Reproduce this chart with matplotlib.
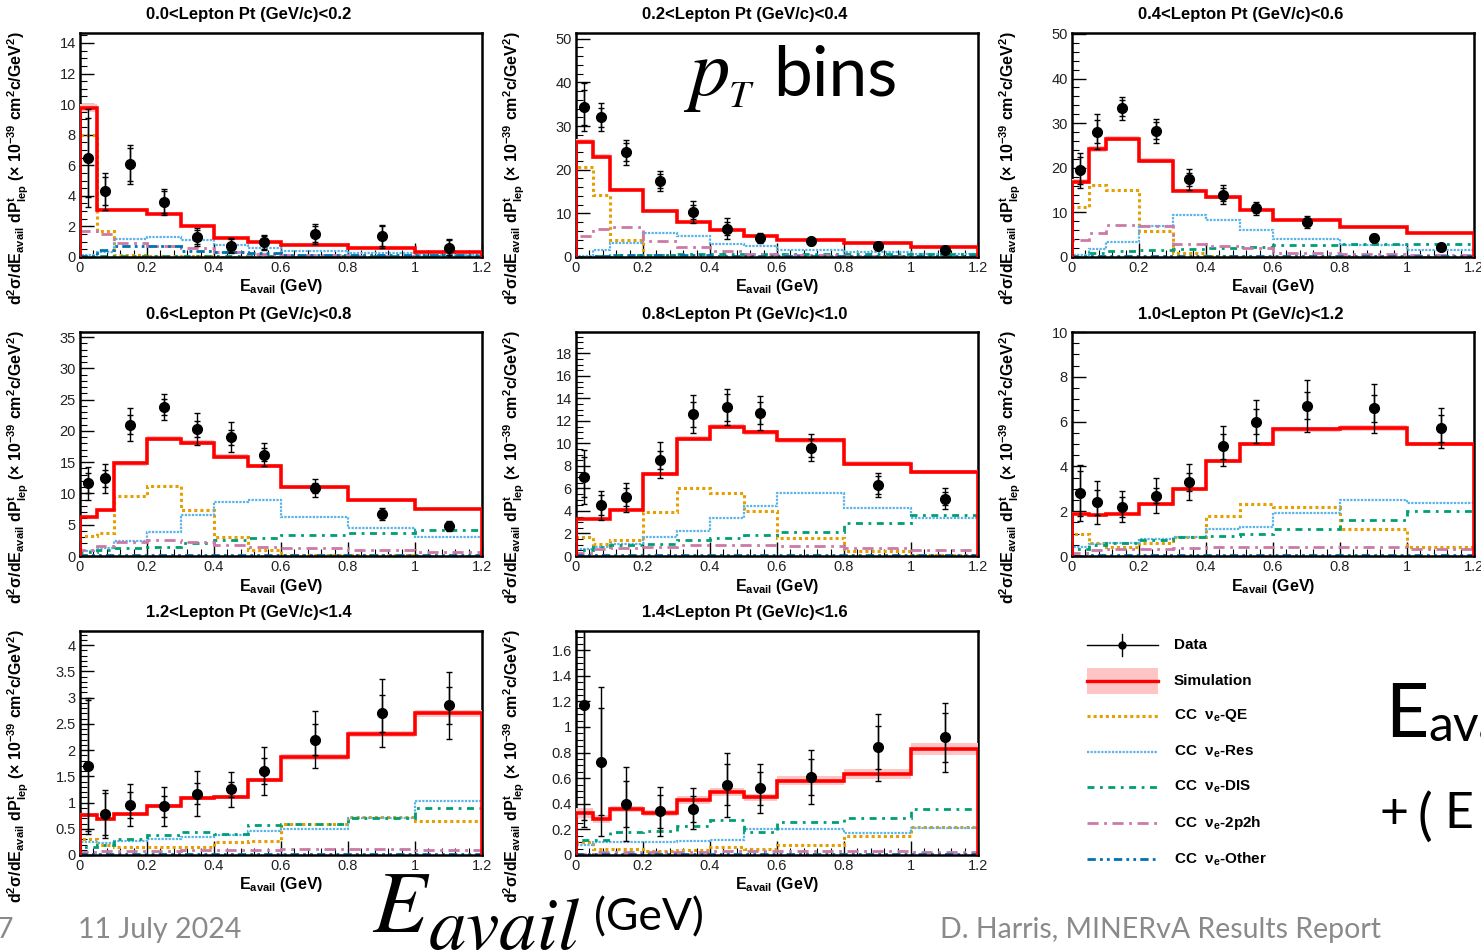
import matplotlib
matplotlib.use("Agg")
import matplotlib.pyplot as plt
from matplotlib.ticker import MultipleLocator, FuncFormatter
from matplotlib.patches import Rectangle

plt.rcParams['font.family'] = ['Liberation Sans', 'DejaVu Sans']
plt.rcParams['mathtext.fontset'] = 'custom'
plt.rcParams['mathtext.rm'] = 'Liberation Sans:bold'
plt.rcParams['mathtext.bf'] = 'Liberation Sans:bold'
plt.rcParams['mathtext.it'] = 'Liberation Sans:bold'
plt.rcParams['mathtext.default'] = 'rm'

# ---------------- data ----------------
titles = ["0.0<Lepton Pt (GeV/c)<0.2", "0.2<Lepton Pt (GeV/c)<0.4", "0.4<Lepton Pt (GeV/c)<0.6",
          "0.6<Lepton Pt (GeV/c)<0.8", "0.8<Lepton Pt (GeV/c)<1.0", "1.0<Lepton Pt (GeV/c)<1.2",
          "1.2<Lepton Pt (GeV/c)<1.4", "1.4<Lepton Pt (GeV/c)<1.6"]
edges = [0, 0.05, 0.1, 0.2, 0.3, 0.4, 0.5, 0.6, 0.8, 1.0, 1.2]
centers = [0.025, 0.075, 0.15, 0.25, 0.35, 0.45, 0.55, 0.7, 0.9, 1.1]

data_vals = [
    [6.5, 4.3, 6.05, 3.6, 1.3, 0.75, 0.95, 1.5, 1.35, 0.6],
    [34.3, 32.0, 24.0, 17.4, 10.3, 6.5, 4.4, 3.6, 2.5, 1.5],
    [19.4, 28.1, 33.3, 28.3, 17.4, 14.0, 10.9, 7.8, 4.3, 2.3],
    [11.6, 12.4, 21.0, 23.8, 20.3, 19.0, 16.2, 10.9, 6.7, 4.8],
    [7.0, 4.5, 5.2, 8.5, 12.6, 13.2, 12.7, 9.6, 6.3, 5.1],
    [2.8, 2.4, 2.2, 2.7, 3.3, 4.9, 6.0, 6.7, 6.6, 5.7],
    [1.7, 0.78, 0.95, 0.93, 1.17, 1.25, 1.6, 2.2, 2.7, 2.85],
    [1.17, 0.73, 0.40, 0.34, 0.36, 0.55, 0.52, 0.61, 0.84, 0.92],
]
data_tot_err = [
    [3.2, 1.2, 1.3, 0.85, 0.6, 0.5, 0.5, 0.65, 0.75, 0.6],
    [5.5, 3.2, 2.9, 2.3, 2.5, 2.4, 1.2, 0.8, 0.7, 0.6],
    [4.0, 4.0, 2.6, 2.7, 2.3, 2.1, 1.5, 1.3, 0.9, 0.7],
    [2.6, 2.3, 2.6, 2.1, 2.5, 2.4, 1.8, 1.4, 1.0, 0.8],
    [2.4, 1.3, 1.3, 1.6, 1.7, 1.6, 1.5, 1.2, 1.1, 0.9],
    [1.25, 0.95, 0.7, 0.8, 0.8, 0.9, 0.95, 1.15, 1.1, 0.9],
    [1.3, 0.45, 0.4, 0.37, 0.43, 0.34, 0.45, 0.55, 0.65, 0.63],
    [0.95, 0.58, 0.29, 0.19, 0.16, 0.25, 0.19, 0.21, 0.26, 0.27],
]
data_stat_err = [
    [2.6, 0.9, 1.1, 0.7, 0.45, 0.4, 0.4, 0.55, 0.65, 0.5],
    [4.0, 2.2, 2.0, 1.6, 1.5, 1.5, 0.9, 0.6, 0.5, 0.4],
    [3.0, 2.5, 1.8, 1.9, 1.5, 1.4, 1.0, 0.9, 0.6, 0.5],
    [1.6, 1.4, 1.5, 1.3, 1.3, 1.2, 1.0, 0.8, 0.6, 0.5],
    [1.8, 0.9, 0.8, 0.8, 1.1, 1.2, 1.0, 0.8, 0.8, 0.6],
    [1.0, 0.55, 0.45, 0.35, 0.4, 0.55, 0.55, 0.6, 0.6, 0.6],
    [1.25, 0.4, 0.25, 0.2, 0.2, 0.15, 0.25, 0.3, 0.35, 0.35],
    [0.9, 0.42, 0.18, 0.13, 0.1, 0.16, 0.13, 0.14, 0.17, 0.19],
]
sim_vals = [
    [9.75, 3.1, 3.1, 2.8, 2.0, 1.25, 1.0, 0.8, 0.6, 0.35],
    [26.4, 23.0, 15.4, 10.6, 8.1, 6.2, 4.9, 3.9, 3.1, 2.2],
    [16.9, 24.2, 26.5, 21.6, 14.9, 13.4, 10.6, 8.2, 6.8, 5.3],
    [6.2, 7.3, 14.8, 18.7, 18.1, 15.9, 14.4, 11.0, 8.9, 7.5],
    [3.3, 3.3, 4.1, 7.3, 10.4, 11.5, 11.0, 10.3, 8.2, 7.5],
    [1.88, 1.82, 1.87, 2.3, 3.0, 4.25, 5.0, 5.65, 5.72, 5.0],
    [0.77, 0.68, 0.78, 0.93, 1.08, 1.1, 1.43, 1.87, 2.3, 2.7],
    [0.33, 0.28, 0.36, 0.33, 0.43, 0.49, 0.45, 0.58, 0.63, 0.83],
]
sim_err = [
    [0.25, 0.08, 0.08, 0.07, 0.05, 0.04, 0.03, 0.03, 0.02, 0.02],
    [0.6, 0.5, 0.35, 0.25, 0.2, 0.15, 0.12, 0.1, 0.08, 0.07],
    [0.5, 0.6, 0.6, 0.5, 0.35, 0.3, 0.25, 0.2, 0.18, 0.15],
    [0.2, 0.2, 0.35, 0.4, 0.4, 0.35, 0.3, 0.25, 0.22, 0.2],
    [0.12, 0.1, 0.12, 0.18, 0.22, 0.25, 0.23, 0.22, 0.2, 0.18],
    [0.07, 0.06, 0.06, 0.07, 0.08, 0.1, 0.1, 0.12, 0.12, 0.11],
    [0.04, 0.03, 0.03, 0.035, 0.04, 0.04, 0.045, 0.05, 0.06, 0.06],
    [0.04, 0.03, 0.025, 0.025, 0.03, 0.03, 0.03, 0.035, 0.04, 0.045],
]
qe_vals = [
    [8.0, 1.7, 0.1, 0.05, 0.04, 0.03, 0.02, 0.02, 0.01, 0.01],
    [20.5, 14.3, 3.8, 0.3, 0.1, 0.08, 0.05, 0.05, 0.03, 0.02],
    [11.1, 16.1, 15.0, 5.8, 1.0, 0.2, 0.1, 0.08, 0.05, 0.03],
    [3.2, 3.6, 9.6, 11.2, 7.3, 3.0, 0.9, 0.2, 0.1, 0.05],
    [1.7, 1.1, 1.4, 3.9, 6.0, 5.6, 4.0, 1.6, 0.4, 0.1],
    [1.0, 0.6, 0.4, 0.6, 0.85, 1.8, 2.3, 2.2, 1.2, 0.4],
    [0.3, 0.2, 0.15, 0.15, 0.16, 0.25, 0.27, 0.6, 0.72, 0.64],
    [0.1, 0.05, 0.05, 0.03, 0.04, 0.06, 0.05, 0.08, 0.15, 0.22],
]
res_vals = [
    [0.1, 0.3, 1.2, 1.3, 1.1, 0.8, 0.6, 0.4, 0.25, 0.15],
    [0.3, 1.5, 3.3, 5.4, 4.8, 3.0, 2.6, 1.7, 1.1, 0.8],
    [0.5, 1.7, 3.4, 7.0, 9.5, 8.4, 6.0, 4.0, 2.8, 1.6],
    [0.8, 1.3, 2.4, 3.8, 6.6, 8.7, 8.9, 6.3, 4.4, 3.0],
    [0.6, 0.8, 1.1, 1.7, 2.2, 3.4, 4.4, 5.6, 4.3, 3.4],
    [0.4, 0.55, 0.6, 0.75, 0.85, 1.2, 1.3, 1.9, 2.5, 2.35],
    [0.25, 0.22, 0.27, 0.3, 0.35, 0.38, 0.45, 0.5, 0.7, 1.02],
    [0.08, 0.1, 0.1, 0.1, 0.11, 0.12, 0.2, 0.2, 0.17, 0.21],
]
dis_vals = [
    [0.02, 0.05, 0.08, 0.08, 0.08, 0.08, 0.08, 0.06, 0.06, 0.05],
    [0.1, 0.2, 0.4, 0.5, 0.6, 0.6, 0.6, 0.6, 0.6, 0.7],
    [0.2, 1.0, 1.3, 1.6, 1.8, 2.0, 2.2, 2.6, 3.0, 3.0],
    [0.6, 0.9, 1.2, 1.5, 2.0, 2.5, 2.8, 3.3, 3.7, 4.1],
    [0.5, 0.8, 1.0, 1.1, 1.4, 1.6, 1.9, 2.1, 2.9, 3.6],
    [0.3, 0.5, 0.6, 0.7, 0.85, 0.9, 1.0, 1.2, 1.6, 2.0],
    [0.15, 0.2, 0.3, 0.38, 0.43, 0.4, 0.58, 0.6, 0.7, 0.9],
    [0.12, 0.12, 0.18, 0.19, 0.23, 0.27, 0.18, 0.26, 0.29, 0.36],
]
p2h_vals = [
    [1.7, 1.5, 0.9, 0.75, 0.6, 0.3, 0.2, 0.1, 0.05, 0.03],
    [4.8, 6.3, 6.9, 3.6, 2.2, 1.4, 0.8, 0.4, 0.2, 0.1],
    [3.8, 5.4, 7.1, 7.0, 3.0, 2.4, 2.0, 1.0, 0.6, 0.4],
    [1.0, 1.6, 2.2, 2.5, 2.2, 1.8, 1.5, 1.2, 0.9, 0.6],
    [0.3, 0.6, 0.7, 0.8, 1.0, 1.0, 1.0, 0.9, 0.7, 0.5],
    [0.15, 0.25, 0.3, 0.3, 0.35, 0.4, 0.4, 0.4, 0.4, 0.3],
    [0.05, 0.08, 0.08, 0.08, 0.1, 0.1, 0.1, 0.12, 0.12, 0.1],
    [0.01, 0.02, 0.02, 0.02, 0.02, 0.03, 0.03, 0.03, 0.03, 0.02],
]
other_vals = [
    [0.05, 0.45, 0.75, 0.7, 0.4, 0.3, 0.25, 0.15, 0.15, 0.1],
    [0.1, 0.3, 0.5, 0.5, 0.4, 0.3, 0.3, 0.2, 0.2, 0.2],
    [0.1, 0.2, 0.3, 0.3, 0.3, 0.3, 0.3, 0.2, 0.2, 0.2],
    [0.1, 0.15, 0.15, 0.15, 0.15, 0.15, 0.15, 0.15, 0.15, 0.15],
    [0.05, 0.1, 0.1, 0.1, 0.1, 0.1, 0.1, 0.1, 0.1, 0.1],
    [0.02, 0.03, 0.03, 0.03, 0.03, 0.03, 0.03, 0.03, 0.03, 0.03],
    [0.01, 0.02, 0.02, 0.02, 0.02, 0.02, 0.02, 0.02, 0.02, 0.02],
    [0.005, 0.01, 0.01, 0.01, 0.01, 0.01, 0.01, 0.01, 0.01, 0.01],
]
y_max = [14.65, 51.3, 50.2, 35.8, 19.9, 10.0, 4.27, 1.75]
y_major = [2, 10, 10, 5, 2, 2, 0.5, 0.2]
y_minor = [0.5, 2, 2, 1, 0.5, 0.5, 0.1, 0.05]

legend_labels = ["Data", "Simulation", "CC  ν$_{e}$-QE", "CC  ν$_{e}$-Res",
                 "CC  ν$_{e}$-DIS", "CC  ν$_{e}$-2p2h", "CC  ν$_{e}$-Other"]

# ---------------- styles ----------------
C_QE, C_RES, C_DIS, C_2P2H, C_OTH = '#e69f00', '#56b4e9', '#009e73', '#cc79a7', '#0072b2'
comp_styles = [
    (C_QE, (0, (1, 1)), 2.2),
    (C_RES, (0, (1, 0.6)), 1.6),
    (C_DIS, (0, (2.5, 2, 1, 2)), 2.0),
    (C_2P2H, (0, (4, 2, 1, 2)), 2.0),
    (C_OTH, (0, (3, 1.5, 1, 1.5, 1, 1.5)), 2.0),
]

W, H = 1481, 950
fig = plt.figure(figsize=(W / 100, H / 100), dpi=100)


def fx(p):
    return p / W


def fy(p):
    return 1 - p / H


col_left = [80, 576, 1072]
row_top = [33, 332, 631]
ax_w, ax_h = 402, 224

ylab = "d$^{2}$σ/dE$_{avail}$ dP$^{t}_{lep}$ (× 10$^{-39}$ cm$^{2}$c/GeV$^{2}$)"
xlab = "E$_{avail}$ (GeV)"
fmt = FuncFormatter(lambda v, p: f"{v:g}")

for i in range(8):
    r, c = divmod(i, 3)
    L, T = col_left[c], row_top[r]
    ax = fig.add_axes([fx(L), fy(T + ax_h), ax_w / W, ax_h / H])
    comps = [qe_vals[i], res_vals[i], dis_vals[i], p2h_vals[i], other_vals[i]]
    for vals, (col, ls, lw) in zip(comps, comp_styles):
        ax.stairs(vals, edges, color=col, linestyle=ls, linewidth=lw, zorder=2)
    lo = [s - e for s, e in zip(sim_vals[i], sim_err[i])]
    hi = [s + e for s, e in zip(sim_vals[i], sim_err[i])]
    ax.stairs(hi, edges, baseline=lo, fill=True, color='#ffc4c4', linewidth=0, zorder=3)
    ax.stairs(sim_vals[i], edges, color='#ff0000', linewidth=2.6, zorder=4)
    ax.errorbar(centers, data_vals[i], yerr=data_tot_err[i], fmt='o', color='black',
                ms=7, elinewidth=1.0, capsize=2.5, capthick=1.0, zorder=6)
    ax.errorbar(centers, data_vals[i], yerr=data_stat_err[i], fmt='none', ecolor='black',
                elinewidth=1.0, capsize=2.5, capthick=1.0, zorder=6)
    ax.set_xlim(0, 1.2)
    ax.set_ylim(0, y_max[i])
    ax.xaxis.set_major_locator(MultipleLocator(0.2))
    ax.xaxis.set_minor_locator(MultipleLocator(0.04))
    ax.yaxis.set_major_locator(MultipleLocator(y_major[i]))
    ax.yaxis.set_minor_locator(MultipleLocator(y_minor[i]))
    ax.xaxis.set_major_formatter(fmt)
    ax.yaxis.set_major_formatter(fmt)
    ax.tick_params(which='both', direction='in', top=False, right=False, labelsize=10.5,
                   colors='black', labelcolor='#222222')
    ax.tick_params(which='major', length=10, width=1.0, pad=3)
    ax.tick_params(which='minor', length=5, width=0.8)
    for s in ax.spines.values():
        s.set_linewidth(1.8)
    ax.text(0.42, 1 + 18 / ax_h, titles[i], transform=ax.transAxes, ha='center', va='center',
            fontsize=12, fontweight='bold')
    ax.text(0.5, -30 / ax_h, xlab, transform=ax.transAxes, ha='center', va='center',
            fontsize=11.5, fontweight='bold')
    ax.text(-62 / ax_w, 1 + 2 / ax_h, ylab, transform=ax.transAxes, ha='center', va='top',
            rotation=90, fontsize=11.5, fontweight='bold')

# ---------------- overlay: legend and slide text ----------------
ov = fig.add_axes([0, 0, 1, 1])
ov.set_xlim(0, W)
ov.set_ylim(H, 0)
ov.axis('off')

hx0, hx1 = 1087, 1158
rows_y = [645, 681, 716, 752, 787, 823, 859]
# Data
ov.plot([hx0, hx1], [rows_y[0], rows_y[0]], color='black', lw=1)
ov.plot([1122, 1122], [rows_y[0] - 11, rows_y[0] + 11], color='black', lw=1)
ov.plot([1122], [rows_y[0]], 'o', color='black', ms=5)
# Simulation
ov.add_patch(Rectangle((hx0, rows_y[1] - 13), hx1 - hx0, 26, color='#ffc4c4', lw=0))
ov.plot([hx0, hx1], [rows_y[1], rows_y[1]], color='#ff0000', lw=2.4)
for (col, ls, lw), yy in zip(comp_styles, rows_y[2:]):
    ov.plot([hx0, hx1], [yy, yy], color=col, linestyle=ls, lw=lw)
for lab, yy in zip(legend_labels, rows_y):
    ov.text(1174, yy, lab, ha='left', va='center', fontsize=11, fontweight='bold')

# slide overlay text
ov.text(683, 95, r"$\mathit{p}$", math_fontfamily='stix', fontsize=58, ha='left', va='baseline')
ov.text(728, 107, r"$\mathit{T}$", math_fontfamily='stix', fontsize=28, ha='left', va='baseline')
ov.text(773, 95, "bins", family='Lato', fontsize=50, ha='left', va='baseline')
ov.text(372, 932, r"$\mathit{E}$", math_fontfamily='stix', fontsize=64, ha='left', va='baseline')
ov.text(428, 948, r"$\mathit{avail}$", math_fontfamily='stix', fontsize=54, ha='left', va='baseline')
ov.text(594, 930, "(GeV)", family='Lato', fontsize=32, ha='left', va='baseline')
ov.text(1385, 737, "E", family='Lato', fontsize=54, ha='left', va='baseline')
ov.text(1428, 741, "avail", family='Lato', fontsize=36, ha='left', va='baseline')
ov.text(1380, 828, "+", family='Lato', fontsize=36, ha='left', va='baseline')
ov.text(1418, 834, "(", family='Lato', fontsize=40, ha='left', va='baseline')
ov.text(1444, 828, "E", family='Lato', fontsize=36, ha='left', va='baseline')
grey = '#8a8a8a'
ov.text(-3, 938, "7", family='Lato', fontsize=20.5, color=grey, ha='left', va='baseline')
ov.text(78, 938, "11 July 2024", family='Lato', fontsize=20.5, color=grey, ha='left', va='baseline')
ov.text(940, 938, "D. Harris, MINERvA Results Report", family='Lato', fontsize=20.5, color=grey,
        ha='left', va='baseline')

fig.savefig("out.png", dpi=100)
